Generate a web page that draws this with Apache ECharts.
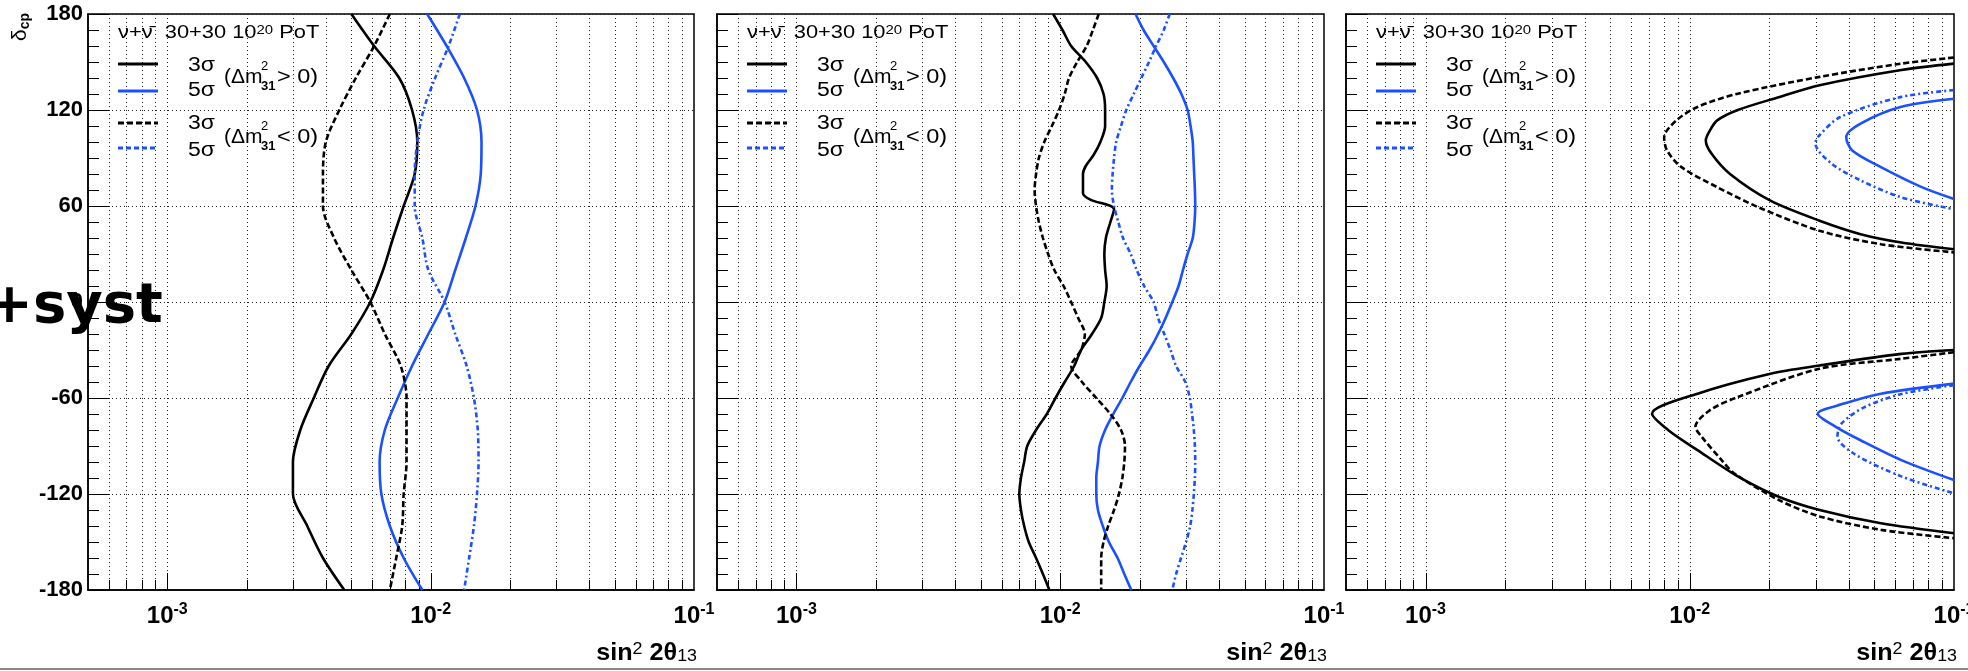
<!DOCTYPE html>
<html><head><meta charset="utf-8">
<script src="https://cdn.jsdelivr.net/npm/echarts@6/dist/echarts.min.js"></script>
<style>html,body{margin:0;padding:0;background:#fff;overflow:hidden}#c{width:1968px;height:671px}</style>
</head><body><div id="c"></div>
<script>
// ---------- data ----------
const xMin = 0.0005, xMax = 0.1;
const xGridValues = [0.0006,0.0007,0.0008,0.0009,0.001,0.002,0.003,0.004,0.005,0.006,0.007,0.008,0.009,
  0.01,0.02,0.03,0.04,0.05,0.06,0.07,0.08,0.09];
const xMajorValues = [0.001, 0.01];

// Panel 1
const delta1 = [180,160,140,120,100,80,60,40,20,0,-20,-40,-60,-80,-100,-120,-140,-160,-180];
const p1_3sig_nh = [0.0050,0.0061,0.0076,0.0085,0.0089,0.0087,0.0079,0.0072,0.0066,0.0059,0.0050,0.0041,0.0036,0.0032,0.0030,0.0030,0.0034,0.0039,0.0047];
const p1_5sig_nh = [0.0097,0.0115,0.0134,0.0150,0.0156,0.0155,0.0148,0.0136,0.0124,0.0113,0.0098,0.0085,0.0075,0.0067,0.0064,0.0065,0.0070,0.0079,0.0093];
const p1_3sig_ih = [0.0070,0.0061,0.0052,0.0045,0.0040,0.0039,0.0039,0.0043,0.0050,0.0059,0.0067,0.0077,0.0081,0.0081,0.0081,0.0079,0.0078,0.0074,0.0070];
const p1_5sig_ih = [0.0129,0.0117,0.0104,0.0094,0.0089,0.0087,0.0087,0.0093,0.0098,0.0113,0.0124,0.0137,0.0146,0.0151,0.0152,0.0150,0.0146,0.0140,0.0134];

// Panel 2
const delta2 = [180,170,160,150,140,130,120,110,100,90,80,70,60,50,40,30,20,10,0,-10,-20,-30,-40,-50,-60,-70,-80,-90,-100,-110,-120,-130,-140,-150,-160,-170,-180];
const delta2_3sig_nh = [180,170,160,150,140,130,120,110,100,92,85,80,68,64,58,50,40,30,20,10,0,-10,-20,-30,-40,-50,-60,-70,-80,-90,-100,-110,-120,-130,-140,-150,-160,-170,-180];
const p2_3sig_nh = [0.0094,0.0102,0.0110,0.0125,0.0138,0.0146,0.0148,0.0148,0.0142,0.0134,0.0125,0.0122,0.0122,0.0130,0.0160,0.0155,0.0149,0.0147,0.0148,0.0150,0.0147,0.0143,0.0132,0.0120,0.0113,0.0104,0.0096,0.0089,0.0081,0.0075,0.0073,0.0071,0.0070,0.0071,0.0073,0.0076,0.0081,0.0086,0.0091];
const p2_5sig_nh = [0.0193,0.0207,0.0226,0.0247,0.0268,0.0288,0.0304,0.0312,0.0318,0.0320,0.0322,0.0324,0.0325,0.0323,0.0318,0.0304,0.0292,0.0281,0.0266,0.0251,0.0235,0.0218,0.0200,0.0185,0.0172,0.0159,0.0148,0.0141,0.0139,0.0137,0.0137,0.0139,0.0145,0.0153,0.0165,0.0175,0.0186];
const p2_3sig_ih = [0.0140,0.0133,0.0126,0.0116,0.0108,0.0104,0.0099,0.0093,0.0087,0.0083,0.0081,0.0080,0.0081,0.0083,0.0086,0.0090,0.0095,0.0103,0.0110,0.0117,0.0124,0.0120,0.0110,0.0121,0.0137,0.0155,0.0170,0.0176,0.0175,0.0172,0.0167,0.0160,0.0152,0.0146,0.0143,0.0143,0.0143];
const p2_5sig_ih = [0.0260,0.0247,0.0231,0.0217,0.0203,0.0190,0.0178,0.0170,0.0163,0.0160,0.0158,0.0157,0.0160,0.0166,0.0173,0.0185,0.0195,0.0208,0.0226,0.0235,0.0248,0.0262,0.0275,0.0298,0.0310,0.0316,0.0321,0.0324,0.0325,0.0324,0.0321,0.0317,0.0311,0.0300,0.0287,0.0275,0.0266];

// Panel 3 contours: [sin^2 2theta13, delta_cp]
const p3_3sig_nh_upper = [[0.1,149],[0.0632,145],[0.031,135.5],[0.0217,128],[0.0152,120],[0.0127,113.5],[0.0119,107],[0.0115,101],[0.0121,92.6],[0.0142,80],[0.0202,63.3],[0.031,50.8],[0.0443,42.4],[0.0632,37.2],[0.1,33]];
const p3_3sig_ih_upper = [[0.1,152.8],[0.0632,149],[0.031,140.7],[0.0152,130.2],[0.0107,121.9],[0.0089,113.5],[0.0080,103],[0.0082,94.7],[0.0093,84.3],[0.0127,71.8],[0.0182,59.2],[0.031,44.5],[0.0529,36.1],[0.1,31]];
const p3_5sig_nh_upper = [[0.1,127],[0.0632,122],[0.0443,111.5],[0.0391,103],[0.0412,94.7],[0.0529,84.3],[0.0755,71.8],[0.1,64.4]];
const p3_5sig_ih_upper = [[0.1,132.4],[0.0632,128.2],[0.0371,115.6],[0.0305,103],[0.0299,99],[0.0345,86.4],[0.0443,76],[0.0632,65.4],[0.1,58]];
const p3_3sig_nh_lower = [[0.1,-30],[0.0632,-32.4],[0.031,-39.7],[0.0202,-44.8],[0.0107,-57.3],[0.0072,-69.8],[0.0083,-80.1],[0.0107,-92.6],[0.0152,-109],[0.0217,-121.7],[0.031,-130],[0.0529,-138.3],[0.1,-144.5]];
const p3_3sig_ih_lower = [[0.1,-31.4],[0.0632,-35.5],[0.031,-41.7],[0.0152,-59.4],[0.0119,-67.7],[0.0105,-78],[0.0111,-84.3],[0.0132,-98.8],[0.0147,-107],[0.0217,-123.7],[0.031,-134],[0.0529,-142.4],[0.1,-147.6]];
const p3_5sig_nh_lower = [[0.1,-51],[0.0529,-57.3],[0.0384,-63.5],[0.0305,-69.8],[0.0357,-78],[0.0443,-86.4],[0.0632,-98.8],[0.1,-111.3]];
const p3_5sig_ih_lower = [[0.1,-52],[0.0632,-57.5],[0.0455,-66],[0.0375,-76],[0.0362,-84],[0.0420,-95],[0.0632,-109],[0.1,-119.6]];

// ---------- layout / style ----------
const BLUE = '#1a50ff';
const FONT = '"Liberation Sans", Arial, Helvetica, sans-serif';
const panels = [{left:88,width:606},{left:717,width:607},{left:1346,width:608}];
const TOP = 14, HEIGHT = 576;

const pairs = (xs, ds) => xs.map((x,i)=>[x, ds[i]]);

function curve(gi, data, color, dashed){
  return {type:'line', xAxisIndex:gi, yAxisIndex:gi, data, symbol:'none', showSymbol:false,
    smooth:0.3, clip:true, silent:true, z:5,
    lineStyle:{color, width:2.6, type: dashed ? (color===BLUE?[5,3,2,3]:[6,3]) : 'solid'}};
}
function gridSeries(gi){
  return {type:'custom', xAxisIndex:gi, yAxisIndex:gi, silent:true, z:1, clip:false,
    data: xGridValues.map(v=>[v, xMajorValues.indexOf(v)>=0?1:0]),
    renderItem:(params, api)=>{
      const v = api.value(0);
      const t = api.coord([v,180]), b = api.coord([v,-180]);
      const x = Math.round(t[0])+0.5;
      const len = api.value(1) ? 17 : 10;
      return {type:'group', children:[
        {type:'line', shape:{x1:x,y1:t[1],x2:x,y2:b[1]}, style:{stroke:'#222', lineWidth:1, lineDash:[1,3]}},
        {type:'line', shape:{x1:x,y1:b[1],x2:x,y2:b[1]-len}, style:{stroke:'#000', lineWidth:1}}
      ]};
    }};
}

const grids=[], xAxes=[], yAxes=[], series=[], graphics=[];
panels.forEach((p,i)=>{
  grids.push({left:p.left, top:TOP, width:p.width, height:HEIGHT, show:true, borderColor:'#000', borderWidth:1.5,
    backgroundColor:'transparent', containLabel:false, outerBoundsMode:'none'});
  xAxes.push({type:'log', logBase:10, gridIndex:i, min:xMin, max:xMax,
    axisLine:{show:true, onZero:false, lineStyle:{color:'#000', width:1.5}}, axisTick:{show:false}, splitLine:{show:false},
    minorTick:{show:false}, minorSplitLine:{show:false},
    axisLabel:{show:true, margin:12, color:'#000', hideOverlap:false, showMinLabel:true, showMaxLabel:true,
      formatter:(v)=>{const e=Math.log10(v); const r=Math.round(e); if(Math.abs(e-r)>1e-6) return ''; return '{b|10}{s|'+r+'}';},
      rich:{b:{fontSize:24, fontWeight:'bold', fontFamily:FONT, color:'#000', lineHeight:28},
            s:{fontSize:16, fontWeight:'bold', fontFamily:FONT, color:'#000', lineHeight:16, verticalAlign:'top'}}}});
  yAxes.push({type:'value', gridIndex:i, min:-180, max:180, interval:60,
    axisLine:{show:true, onZero:false, lineStyle:{color:'#000', width:1.5}},
    axisTick:{show:true, inside:true, length:22, lineStyle:{color:'#000', width:1}},
    minorTick:{show:true, splitNumber:6, length:11, lineStyle:{color:'#000', width:1}},
    splitLine:{show:true, lineStyle:{color:'#222', width:1, type:[1,3]}},
    axisLabel:{show:i===0, margin:5, color:'#000', fontSize:22, fontWeight:'bold', fontFamily:FONT}});
  series.push(gridSeries(i));
});

// panel 1
series.push(curve(0, pairs(p1_3sig_nh, delta1), '#000', false));
series.push(curve(0, pairs(p1_5sig_nh, delta1), BLUE, false));
series.push(curve(0, pairs(p1_3sig_ih, delta1), '#000', true));
series.push(curve(0, pairs(p1_5sig_ih, delta1), BLUE, true));
// panel 2
series.push(curve(1, pairs(p2_3sig_nh, delta2_3sig_nh), '#000', false));
series.push(curve(1, pairs(p2_5sig_nh, delta2), BLUE, false));
series.push(curve(1, pairs(p2_3sig_ih, delta2), '#000', true));
series.push(curve(1, pairs(p2_5sig_ih, delta2), BLUE, true));
// panel 3
series.push(curve(2, p3_3sig_nh_upper, '#000', false));
series.push(curve(2, p3_3sig_nh_lower, '#000', false));
series.push(curve(2, p3_5sig_nh_upper, BLUE, false));
series.push(curve(2, p3_5sig_nh_lower, BLUE, false));
series.push(curve(2, p3_3sig_ih_upper, '#000', true));
series.push(curve(2, p3_3sig_ih_lower, '#000', true));
series.push(curve(2, p3_5sig_ih_upper, BLUE, true));
series.push(curve(2, p3_5sig_ih_lower, BLUE, true));

// legends and axis titles
function txt(x,y,text,opts,sx){
  return {type:'text', x, y, z:20, silent:true, scaleX: sx||1.15,
    style:Object.assign({text, fill:'#000', fontFamily:FONT, fontSize:19, verticalAlign:'middle', align:'left'}, opts||{})};
}
panels.forEach((p)=>{
  const x0 = p.left, y0 = TOP;
  graphics.push(txt(x0+30, y0+19, 'ν+ν\u0304  30+30 10{s|20} PoT', {rich:{s:{fontSize:13, fontFamily:FONT, verticalAlign:'top', lineHeight:12}}}));
  const rows = [[50,'#000',null],[77,BLUE,null],[109,'#000',[6,3]],[134,BLUE,[5,3]]];
  rows.forEach(r=>{
    graphics.push({type:'line', z:20, silent:true, shape:{x1:x0+30,y1:y0+r[0],x2:x0+70,y2:y0+r[0]},
      style:{stroke:r[1], lineWidth:3, lineDash:r[2]||null}});
  });
  graphics.push(txt(x0+100, y0+51, '3σ', {fontSize:20}));
  graphics.push(txt(x0+100, y0+76, '5σ', {fontSize:20}));
  graphics.push(txt(x0+100, y0+109, '3σ', {fontSize:20}));
  graphics.push(txt(x0+100, y0+136, '5σ', {fontSize:20}));
  [[63,'> 0)'],[123,'< 0)']].forEach(b=>{
    const yc = y0+b[0];
    graphics.push(txt(x0+136, yc, '(Δm', {fontSize:21}, 1.0));
    graphics.push(txt(x0+173, yc-11, '2', {fontSize:13}, 1.0));
    graphics.push(txt(x0+173, yc+9, '31', {fontSize:13, fontWeight:'bold'}, 1.0));
    graphics.push(txt(x0+189, yc, b[1], {fontSize:21}, 1.12));
  });
  graphics.push(txt(x0+p.width+3, 653, '{b|sin}{s|2}{b| 2θ}{u|13}', {align:'right',
    rich:{b:{fontSize:24, fontWeight:'bold', fontFamily:FONT, lineHeight:24},
          s:{fontSize:17, fontFamily:FONT, lineHeight:15, verticalAlign:'top'},
          u:{fontSize:17, fontFamily:FONT, lineHeight:15, verticalAlign:'bottom'}}}, 1.05));
});
graphics.push({type:'text', x:20, y:27, rotation:Math.PI/2, z:20, silent:true,
  style:{text:'{d|δ}{c|cp}', align:'center', verticalAlign:'middle',
    rich:{d:{fontSize:21, fontFamily:FONT, lineHeight:24}, c:{fontSize:14, fontFamily:FONT, fontWeight:'bold', lineHeight:24, verticalAlign:'bottom'}}}});
graphics.push({type:'text', x:-14, y:307, z:30, silent:true,
  style:{text:'+syst', fill:'#000', fontFamily:'"DejaVu Sans", sans-serif', fontWeight:'bold', fontSize:56, verticalAlign:'middle', align:'left'}});
graphics.push({type:'line', z:20, silent:true, shape:{x1:0,y1:669,x2:1968,y2:669}, style:{stroke:'#888', lineWidth:2}});

const chart = echarts.init(document.getElementById('c'), null, {renderer:'canvas', width:1968, height:671});
chart.setOption({animation:false, backgroundColor:'#fff', grid:grids, xAxis:xAxes, yAxis:yAxes, series, graphic:{elements:graphics}});
</script></body></html>
